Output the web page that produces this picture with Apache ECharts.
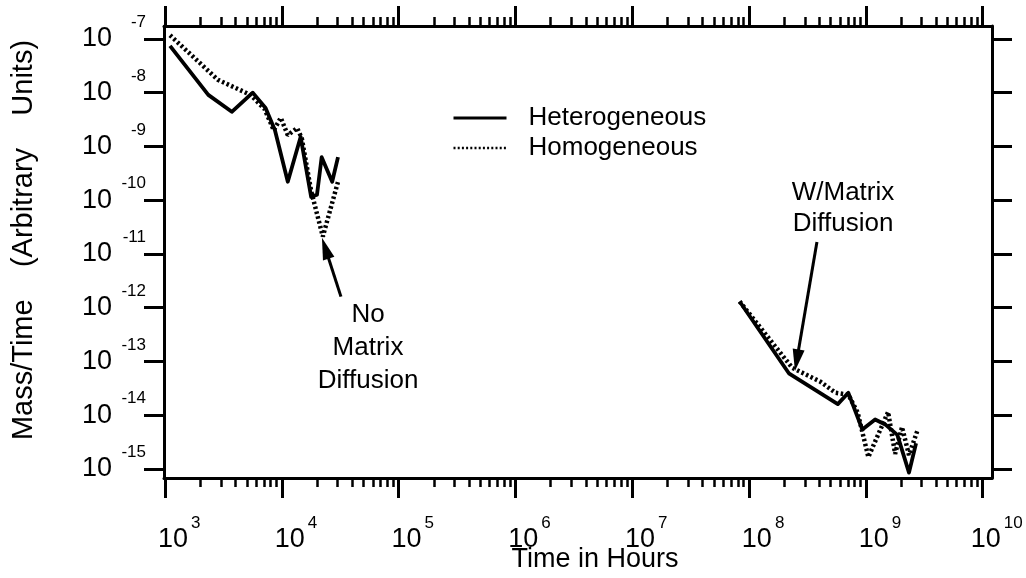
<!DOCTYPE html>
<html>
<head>
<meta charset="utf-8">
<script src="https://cdn.jsdelivr.net/npm/echarts@6/dist/echarts.min.js"></script>
<style>html,body{margin:0;padding:0;background:#fff}#c{width:1026px;height:578px}</style>
</head>
<body>
<div id="c"></div>
<script>
// ---- data (time in hours, mass/time in arbitrary units) ----
const hetEarlyTime = [1100, 2340, 3720, 5620, 7240, 8710, 11220, 14450, 17780, 19950, 21880, 26920, 30200];
const hetEarlyRate = [7.4e-8, 9.1e-9, 4.4e-9, 1.0e-8, 5.2e-9, 2.0e-9, 2.2e-10, 1.5e-9, 1.15e-10, 1.26e-10, 6.3e-10, 2.2e-10, 6.3e-10];
const homEarlyTime = [1100, 2000, 2820, 5370, 7080, 8510, 9770, 11220, 13490, 14790, 17780, 22390, 30200];
const homEarlyRate = [1.17e-7, 3.5e-8, 1.74e-8, 9.1e-9, 5.0e-9, 2.0e-9, 3.4e-9, 1.62e-9, 2.2e-9, 1.41e-9, 1.48e-10, 2.1e-11, 2.2e-10];
const hetLateTime = [8.3e7, 2.19e8, 5.75e8, 7.08e8, 9.33e8, 1.20e9, 1.48e9, 1.86e9, 2.34e9, 2.69e9];
const hetLateRate = [1.3e-12, 6.0e-14, 1.6e-14, 2.6e-14, 5.4e-15, 8.3e-15, 6.6e-15, 4.3e-15, 8.5e-16, 3.0e-15];
const homLateTime = [8.3e7, 2.34e8, 4.07e8, 5.5e8, 7.08e8, 8.5e8, 1.05e9, 1.55e9, 1.78e9, 2.04e9, 2.34e9, 2.75e9];
const homLateRate = [1.3e-12, 7.6e-14, 4.2e-14, 2.6e-14, 2.4e-14, 1.12e-14, 1.66e-15, 1.15e-14, 1.9e-15, 6.0e-15, 1.8e-15, 5.0e-15];

const xTickExponents = [3, 4, 5, 6, 7, 8, 9, 10];
const yTickExponents = [-15, -14, -13, -12, -11, -10, -9, -8, -7];
const minorMultipliers = [2, 3, 4, 5, 6, 7, 8, 9];

const seriesNames = ['Heterogeneous', 'Homogeneous'];
const xTitle = 'Time in Hours';
const yTitle = 'Mass/Time    (Arbitrary    Units)';
const noMatrixText = 'No\nMatrix\nDiffusion';
const wMatrixText = 'W/Matrix\nDiffusion';
// arrows: [time, rate] of tail and tip
const noMatrixArrow = { from: [32000, 1.6e-12], to: [22000, 2.0e-11] };
const wMatrixArrow = { from: [3.81e8, 1.66e-11], to: [2.47e8, 6.6e-14] };

// ---- build ----
const FONT = 'Liberation Sans';
const L = Math.log10;
const pts = (t, r) => t.map((v, i) => [L(v), L(r[i])]);
const X_MIN = 2.99, X_MAX = 10.08, Y_MIN = -15.17, Y_MAX = -6.76;

const minorX = [];
xTickExponents.slice(0, -1).forEach(e => minorMultipliers.forEach(k => minorX.push(e + L(k))));

const fmt = v => '{b|10}{e|' + Math.round(v) + '}';
const xRich = {
  b: { fontSize: 27, lineHeight: 50, padding: [0, 0, 0, 28], fontFamily: FONT, color: '#000' },
  e: { fontSize: 17, lineHeight: 17, verticalAlign: 'top', padding: [0, 0, 0, 3], fontFamily: FONT, color: '#000' }
};
const yRich = {
  b: { fontSize: 27, lineHeight: 50, fontFamily: FONT, color: '#000' },
  e: { fontSize: 17, lineHeight: 17, verticalAlign: 'top', width: 34, align: 'right', fontFamily: FONT, color: '#000' }
};

function xAxisDef(pos, major, withLabel) {
  const a = {
    type: 'value', position: pos, min: X_MIN, max: X_MAX, gridIndex: 0,
    axisLine: { show: major, onZero: false, lineStyle: { color: '#000', width: 3 } },
    axisTick: { show: true, inside: false, customValues: major ? xTickExponents : minorX,
      length: major ? 20 : 9, lineStyle: { color: '#000', width: major ? 3 : 2.5 } },
    axisLabel: { show: false },
    splitLine: { show: false }
  };
  if (withLabel) {
    a.axisLabel = { show: true, customValues: xTickExponents, margin: 37, formatter: fmt, rich: xRich };
    a.name = xTitle;
    a.nameLocation = 'middle';
    a.nameGap = 68;
    a.nameMoveOverlap = false;
    a.nameTextStyle = { fontSize: 27, fontFamily: FONT, color: '#000', padding: [0, 0, 0, 34] };
  }
  return a;
}
function yAxisDef(pos, withLabel) {
  const a = {
    type: 'value', position: pos, min: Y_MIN, max: Y_MAX, gridIndex: 0,
    axisLine: { show: true, onZero: false, lineStyle: { color: '#000', width: 3 } },
    axisTick: { show: true, inside: false, customValues: yTickExponents, length: 20,
      lineStyle: { color: '#000', width: 3 } },
    axisLabel: { show: false },
    splitLine: { show: false }
  };
  if (withLabel) {
    a.axisLabel = { show: true, customValues: yTickExponents, margin: 18, formatter: fmt, rich: yRich };
    a.name = yTitle;
    a.nameLocation = 'middle';
    a.nameRotate = 90;
    a.nameGap = 126;
    a.nameMoveOverlap = false;
    a.nameTextStyle = { fontSize: 29, fontFamily: FONT, color: '#000', padding: [0, 0, 0, 24] };
  }
  return a;
}

const solid = { color: '#000', width: 3.8, join: 'round' };
const dotted = { color: '#000', width: 4.5, type: [2.5, 2.5], cap: 'butt' };
function line(name, data, style) {
  return { type: 'line', name, data, symbol: 'none', showSymbol: false, lineStyle: style,
    itemStyle: { color: '#000' }, xAxisIndex: 0, yAxisIndex: 0, silent: true, animation: false };
}

const chart = echarts.init(document.getElementById('c'), null, { renderer: 'canvas' });
const option = {
  animation: false,
  backgroundColor: '#fff',
  textStyle: { fontFamily: FONT, color: '#000' },
  grid: { left: 164, right: 34, top: 26, bottom: 100, containLabel: false, outerBoundsMode: 'none' },
  legend: {
    orient: 'vertical', left: 452, top: 105, padding: 0, itemWidth: 53, itemHeight: 22, itemGap: 4,
    textStyle: { fontSize: 26, fontFamily: FONT, color: '#000', padding: [0, 0, 0, 17] },
    itemStyle: { opacity: 0 },
    data: [
      { name: seriesNames[0], itemStyle: { opacity: 0 }, lineStyle: { color: '#000', width: 3, type: 'solid' } },
      { name: seriesNames[1], itemStyle: { opacity: 0 }, lineStyle: { color: '#000', width: 2.5, type: [2, 2.2] } }
    ],
    selectedMode: false
  },
  xAxis: [xAxisDef('bottom', true, true), xAxisDef('bottom', false, false), xAxisDef('top', true, false), xAxisDef('top', false, false)],
  yAxis: [yAxisDef('left', true), yAxisDef('right', false)],
  series: [
    line(seriesNames[1], pts(homEarlyTime, homEarlyRate), dotted),
    line(seriesNames[1], pts(homLateTime, homLateRate), dotted),
    line(seriesNames[0], pts(hetEarlyTime, hetEarlyRate), solid),
    line(seriesNames[0], pts(hetLateTime, hetLateRate), solid)
  ]
};
chart.setOption(option);

const px = p => chart.convertToPixel({ gridIndex: 0 }, [L(p[0]), L(p[1])]);
function arrow(a, b) {
  const [x1, y1] = px(a), [x2, y2] = px(b);
  const dx = x2 - x1, dy = y2 - y1, len = Math.hypot(dx, dy), ux = dx / len, uy = dy / len;
  const hl = 22, hw = 6;
  const bx = x2 - ux * hl, by = y2 - uy * hl;
  return [
    { type: 'line', shape: { x1, y1, x2: bx + ux * 2, y2: by + uy * 2 }, style: { stroke: '#000', lineWidth: 3 }, silent: true },
    { type: 'polygon', shape: { points: [[x2, y2], [bx - uy * hw, by + ux * hw], [bx + uy * hw, by - ux * hw]] }, style: { fill: '#000' }, silent: true }
  ];
}
const txt = (s, x, y, lh) => ({ type: 'text', x, y, silent: true,
  style: { text: s, fontSize: 26, fontFamily: FONT, fill: '#000', align: 'center', verticalAlign: 'middle', lineHeight: lh } });

chart.setOption({
  graphic: [
    ...arrow(noMatrixArrow.from, noMatrixArrow.to),
    ...arrow(wMatrixArrow.from, wMatrixArrow.to),
    txt(noMatrixText, 368, 348, 33),
    txt(wMatrixText, 843, 208, 31)
  ]
});
</script>
</body>
</html>
